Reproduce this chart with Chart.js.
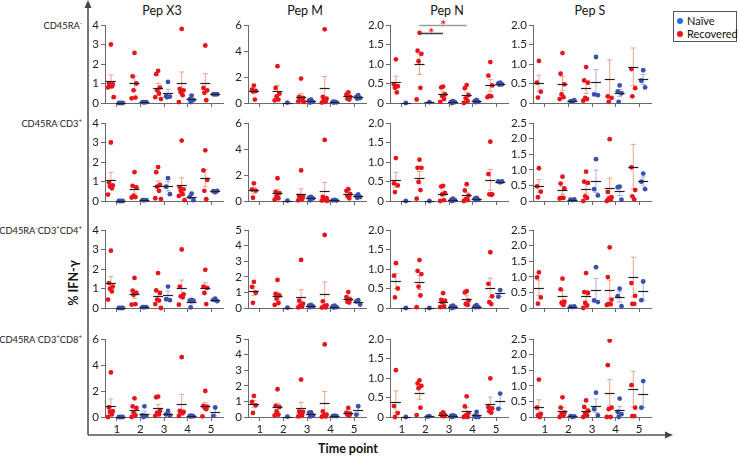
<!DOCTYPE html>
<html>
<head>
<meta charset="utf-8">
<script src="https://cdn.jsdelivr.net/npm/chart.js@4.4.0/dist/chart.umd.min.js"></script>
<style>
  body { margin: 0; background: #fff; font-family: Lato, "Open Sans", sans-serif; }
  #wrap { position: relative; width: 740px; height: 456px; overflow: hidden; }
  #wrap canvas { position: absolute; }
  .rowlbl { position: absolute; right: 658px; font-size: 9.3px; color: #222; white-space: nowrap; transform: translateY(-50%); }
  .rowlbl sup { font-size: 6px; vertical-align: 4px; }
  .title { position: absolute; font-size: 12.5px; color: #111; transform: translateX(-50%); white-space: nowrap; }
  .ylab { position: absolute; left: 73px; top: 283px; font-size: 12.5px; font-weight: bold; color: #111;
          transform: translate(-50%, -50%) rotate(-90deg); white-space: nowrap; }
  .xlab { position: absolute; left: 348px; top: 441px; font-size: 12.5px; font-weight: bold; color: #111;
          transform: translateX(-50%); white-space: nowrap; }
  #legend { position: absolute; left: 673px; top: 11px; width: 64px; height: 31px; border: 1px solid #555;
            font-size: 11px; color: #111; box-sizing: border-box; }
  #legend div { position: absolute; left: 3px; white-space: nowrap; }
  #legend span { display: inline-block; width: 6px; height: 6px; border-radius: 50%; margin-right: 4px; vertical-align: 1px; }
</style>
</head>
<body>
<div id="wrap">
  <svg width="740" height="456" style="position:absolute;left:0;top:0">
    <line x1="88" y1="6" x2="88" y2="435" stroke="#555" stroke-width="1.6"/>
    <polygon points="88,0 84.5,8 91.5,8" fill="#444"/>
    <line x1="88" y1="435" x2="666" y2="435" stroke="#555" stroke-width="1.6"/>
    <polygon points="673,435 665,431.5 665,438.5" fill="#444"/>
  </svg>
  <div id="legend">
    <div style="top:2px"><span style="background:#1f6fe8"></span>Naïve</div>
    <div style="top:15px"><span style="background:#e8141c"></span>Recovered</div>
  </div>
  <div class="ylab">% IFN-γ</div>
  <div class="xlab">Time point</div>
</div>
<script>
// time points and panel labels
var timePoints = [1, 2, 3, 4, 5];
var peptides = ['Pep X3', 'Pep M', 'Pep N', 'Pep S'];
var subsets = [
  'CD45RA<sup>-</sup>',
  'CD45RA<sup>-</sup>CD3<sup>+</sup>',
  'CD45RA<sup>-</sup>CD3<sup>+</sup>CD4<sup>+</sup>',
  'CD45RA<sup>-</sup>CD3<sup>+</sup>CD8<sup>+</sup>'
];

// y axis range per row (subset) and column (peptide)
var yMax  = [[4, 6, 2, 2], [4, 6, 2, 2.5], [4, 5, 2, 2.5], [6, 5, 2, 2.5]];
var yStep = [[1, 2, 0.5, 0.5], [1, 2, 0.5, 0.5], [1, 1, 0.5, 0.5], [2, 1, 0.5, 0.5]];

// CD45RA- : one list per time point
var rec_RA_X3 = [[3.0,1.0,0.95,0.9,0.85,0.8,0.3],[2.57,1.37,1.0,0.65,0.28,0.24],[1.65,1.48,0.79,0.65,0.48,0.3,0.2],[3.8,0.72,0.65,0.55,0.4,0.05],[2.95,0.77,0.65,0.52,0.14]];
var nai_RA_X3 = [[0,0,0],[0.03,0.05,0.05,0.05],[1.08,0.35,0.33,0.3],[0.38,0.2,0.15,0.05],[0.45,0.45,0.45]];
var rec_RA_M  = [[1.34,1.03,0.93,0.9,0.26],[2.83,1.16,0.72,0.5,0.26,0.2],[1.88,0.46,0.4,0.33,0.2,0.13,0.08],[5.67,0.46,0.33,0.2,0.1,0.03],[0.82,0.64,0.46,0.33,0.26]];
var nai_RA_M  = [[],[0.03],[0.26,0.2,0.08,0.03],[0.1,0.08,0.05,0.03],[0.6,0.46,0.38,0.33]];
var rec_RA_N  = [[1.12,0.48,0.43,0.39,0.27],[1.8,1.34,1.26,1.07,0.39,0.09],[0.42,0.4,0.22,0.18,0.1,0.03],[0.46,0.38,0.2,0.12,0.05,0.0],[1.05,0.7,0.45,0.18,0.17,0.15]];
var nai_RA_N  = [[0],[0.02],[0.05,0.03,0.02,0],[0.08,0.05,0.03,0.02],[0.52,0.5,0.48,0.47]];
var rec_RA_S  = [[1.08,0.52,0.29,0.14],[1.28,0.75,0.48,0.22,0.15,0.1],[0.92,0.58,0.52,0.13,0.1,0.06],[2.1,0.17,0.13,0.03],[2.3,0.87,0.38,0.17]];
var nai_RA_S  = [[],[0.05,0.05,0.07],[1.18,0.22,0.2],[0.45,0.3,0.25,0.03],[0.84,0.57,0.4]];

// CD45RA-CD3+
var rec_CD3_X3 = [[3.0,0.95,0.8,0.75,0.65,0.33],[1.48,0.78,0.7,0.26,0.2,0.18],[1.74,1.48,0.83,0.73,0.52,0.14,0.1],[3.1,0.7,0.6,0.52,0.35,0.26,0.04],[2.6,1.57,1.08,0.52,0.09]];
var nai_CD3_X3 = [[0,0,0],[0.05,0.05,0.05,0.05],[1.17,0.73,0.35],[0.38,0.21,0.04],[0.45,0.5,0.52]];
var rec_CD3_M  = [[1.36,0.88,0.8,0.25],[1.75,0.7,0.6,0.37,0.21,0.1],[2.35,0.39,0.31,0.21,0.13,0.05],[4.7,0.31,0.21,0.13,0.05,0.03,0.02],[0.91,0.78,0.52,0.39,0.21]];
var nai_CD3_M  = [[],[0.03],[0.31,0.26,0.2,0.05],[0.08,0.05,0.03],[0.5,0.4,0.3,0.25]];
var rec_CD3_N  = [[1.1,0.45,0.4,0.23],[1.06,0.85,0.85,0.49,0.28,0.06],[0.39,0.37,0.2,0.17,0.02,0.0],[0.43,0.27,0.14,0.05,0.02,0.0],[1.52,0.69,0.17,0.17,0.16]];
var nai_CD3_N  = [[0],[0],[0.06,0.03,0.02,0],[0.08,0.06,0.03,0.02],[0.48,0.5,0.5]];
var rec_CD3_S  = [[1.05,0.47,0.3,0.12],[0.78,0.56,0.4,0.1,0.1,0.08],[0.94,0.62,0.58,0.15,0.1,0.0],[1.98,0.29,0.12,0.08,0.04,0.0],[3.87,1.08,0.35,0.15,0.05]];
var nai_CD3_S  = [[],[0.03,0.04,0.05],[1.34,0.38,0.18],[0.46,0.44,0.04],[0.88,0.62,0.38]];

// CD45RA-CD3+CD4+
var rec_CD4_X3 = [[2.94,1.28,1.1,0.99,0.85,0.43],[1.54,0.89,0.77,0.68,0.2,0.17],[1.79,0.9,0.77,0.43,0.38,0.2,0.0],[3.0,1.1,0.7,0.6,0.55,0.17],[1.96,1.1,1.03,0.77,0.2]];
var nai_CD4_X3 = [[0,0,0],[0.05,0.05,0.05,0.05],[1.1,0.45,0.4],[0.41,0.38,0.38,0.03],[0.48,0.42,0.35]];
var rec_CD4_M  = [[1.68,1.35,0.98,0.33],[1.8,0.9,0.8,0.6,0.32,0.2],[3.08,0.47,0.28,0.17,0.1,0.04],[4.68,0.43,0.17,0.1,0.04,0.03],[1.02,0.7,0.55,0.4,0.35]];
var nai_CD4_M  = [[],[0.03],[0.2,0.15,0.1,0.05],[0.15,0.1,0.05,0.03],[0.5,0.42,0.22]];
var rec_CD4_N  = [[1.15,0.83,0.5,0.27],[1.23,0.95,0.87,0.55,0.32,0.02],[0.38,0.21,0.19,0.15,0.04,0.02],[0.43,0.4,0.19,0.1,0.08],[1.43,0.62,0.3,0.15,0.1]];
var nai_CD4_N  = [[0],[0],[0.06,0.04,0.02,0],[0.07,0.04,0.02,0.02],[0.46,0.29]];
var rec_CD4_S  = [[1.14,0.98,0.34,0.14],[0.94,0.6,0.2,0.16,0.1],[1.12,0.51,0.48,0.16,0.08,0.0],[1.94,0.99,0.27,0.13,0.12,0.1],[3.5,0.8,0.39,0.13,0.13]];
var nai_CD4_S  = [[],[0.03,0.04,0.05],[1.31,0.24,0.19],[0.62,0.38,0.06],[0.85,0.25]];

// CD45RA-CD3+CD8+
var rec_CD8_X3 = [[3.43,0.73,0.45,0.39,0.2,0.0],[1.44,0.81,0.7,0.34,0.13,0.0],[1.57,1.52,0.47,0.34,0.2,0.08],[4.6,0.47,0.39,0.3,0.29,0.08],[2.0,0.85,0.8,0.75,0.6,0.05]];
var nai_CD8_X3 = [[0,0,0],[0.82,0.13,0.08,0.0],[0.47,0.2,0.13],[0.1,0.08,0.05,0.03],[0.73,0.08]];
var rec_CD8_M  = [[1.35,0.97,0.75,0.26],[1.78,0.71,0.64,0.36,0.15,0.1],[2.4,0.36,0.32,0.21,0.1,0.04],[4.65,0.36,0.15,0.1,0.04,0.02],[0.58,0.28,0.21,0.15,0.1]];
var nai_CD8_M  = [[],[0.03],[0.3,0.28,0.1,0.03],[0.08,0.06,0.05],[0.69,0.15]];
var rec_CD8_N  = [[1.2,0.28,0.1,0.0],[0.94,0.86,0.8,0.74,0.24,0.05],[0.12,0.08,0.05,0.03,0.02],[0.53,0.27,0.1,0.04,0.0,0.0],[0.99,0.25,0.22,0.15,0.11]];
var nai_CD8_N  = [[0],[0.02,0.01],[0.04,0.03,0.02,0],[0.13,0.03,0,0],[0.6,0.21]];
var rec_CD8_S  = [[1.2,0.3,0.1,0.05,0.0],[0.63,0.3,0.14,0.1,0.05,0.0],[0.53,0.32,0.2,0.12,0.05,0.0],[2.45,1.66,0.3,0.25,0.0,0.0],[3.07,1.02,0.3,0.03,0.03]];
var nai_CD8_S  = [[],[0.0,0.03,0.02],[0.78,0.25,0.05],[0.59,0.16,0.09,0.0],[1.15,0.3]];

var recovered = [
  [rec_RA_X3, rec_RA_M, rec_RA_N, rec_RA_S],
  [rec_CD3_X3, rec_CD3_M, rec_CD3_N, rec_CD3_S],
  [rec_CD4_X3, rec_CD4_M, rec_CD4_N, rec_CD4_S],
  [rec_CD8_X3, rec_CD8_M, rec_CD8_N, rec_CD8_S]
];
var naive = [
  [nai_RA_X3, nai_RA_M, nai_RA_N, nai_RA_S],
  [nai_CD3_X3, nai_CD3_M, nai_CD3_N, nai_CD3_S],
  [nai_CD4_X3, nai_CD4_M, nai_CD4_N, nai_CD4_S],
  [nai_CD8_X3, nai_CD8_M, nai_CD8_N, nai_CD8_S]
];

// significance brackets (Pep N, CD45RA-): time point from -> to, at y level
var sigMarks = [
  { row: 0, col: 2, from: 2, to: 4, level: 2.0, color: '#9a9a9a' },
  { row: 0, col: 2, from: 2, to: 3, level: 1.8, color: '#444' }
];

var RED = '#e8141c', BLUE = '#3b4fae';
var RED_ERR = '#f3a28a', BLUE_ERR = '#aab1e0';
var AXIS = '#6a6a6a';
var FONT = 'Lato, "Open Sans", sans-serif';
var REC_OFF = -0.25, NAI_OFF = 0.17;
var jitter = [0, -0.08, 0.08, -0.04, 0.04, -0.12, 0.12, 0];

// panel placement
var colX = [105, 248, 390, 533];
var rowTop = [25, 123, 230, 339];
var plotW = 120, plotH = 78, padT = 14, axW = 32, axH = 20;

function toPoints(groups, off) {
  var pts = [];
  groups.forEach(function(g, t) {
    g.forEach(function(v, i) { pts.push({ x: timePoints[t] + off + jitter[i % jitter.length], y: v }); });
  });
  return pts;
}

function stats(g) {
  var n = g.length;
  if (!n) return null;
  var m = g.reduce(function(a, b) { return a + b; }, 0) / n;
  var sem = 0;
  if (n > 1) {
    var ss = g.reduce(function(a, b) { return a + (b - m) * (b - m); }, 0);
    sem = Math.sqrt(ss / (n - 1)) / Math.sqrt(n);
  }
  return { mean: m, sem: sem };
}

// mean line + SEM whiskers for each group, plus significance marks
var meanSem = {
  id: 'meanSem',
  beforeDatasetsDraw: function(chart, args, opts) {
    var ctx = chart.ctx, xs = chart.scales.x, ys = chart.scales.y;
    ctx.save();
    ctx.lineWidth = 1;
    [[opts.rec, REC_OFF, RED_ERR], [opts.nai, NAI_OFF, BLUE_ERR]].forEach(function(grp) {
      grp[0].forEach(function(g, t) {
        var s = stats(g);
        if (!s || s.sem === 0) return;
        var x = xs.getPixelForValue(timePoints[t] + grp[1]);
        var y1 = ys.getPixelForValue(s.mean + s.sem), y0 = ys.getPixelForValue(Math.max(0, s.mean - s.sem));
        ctx.strokeStyle = grp[2];
        ctx.beginPath();
        ctx.moveTo(x, y0); ctx.lineTo(x, y1);
        ctx.moveTo(x - 2.5, y1); ctx.lineTo(x + 2.5, y1);
        ctx.moveTo(x - 2.5, y0); ctx.lineTo(x + 2.5, y0);
        ctx.stroke();
      });
    });
    ctx.restore();
  },
  afterDatasetsDraw: function(chart, args, opts) {
    var ctx = chart.ctx, xs = chart.scales.x, ys = chart.scales.y;
    ctx.save();
    ctx.strokeStyle = '#222';
    ctx.lineWidth = 1.2;
    [[opts.rec, REC_OFF], [opts.nai, NAI_OFF]].forEach(function(grp) {
      grp[0].forEach(function(g, t) {
        var s = stats(g);
        if (!s) return;
        var x = xs.getPixelForValue(timePoints[t] + grp[1]);
        var y = Math.round(ys.getPixelForValue(s.mean)) + 0.5;
        ctx.beginPath();
        ctx.moveTo(x - 5, y); ctx.lineTo(x + 5, y);
        ctx.stroke();
      });
    });
    opts.sig.forEach(function(m) {
      var xa = xs.getPixelForValue(m.from + REC_OFF), xb = xs.getPixelForValue(m.to + REC_OFF);
      var y = Math.round(ys.getPixelForValue(m.level)) + 0.5;
      ctx.strokeStyle = m.color;
      ctx.lineWidth = 1.6;
      ctx.beginPath(); ctx.moveTo(xa, y); ctx.lineTo(xb, y); ctx.stroke();
      ctx.fillStyle = RED;
      ctx.font = 'bold 14px ' + FONT;
      ctx.textAlign = 'center';
      ctx.textBaseline = 'alphabetic';
      ctx.fillText('*', (xa + xb) / 2, y + 4);
    });
    ctx.restore();
  }
};

var wrap = document.getElementById('wrap');

peptides.forEach(function(p, c) {
  var d = document.createElement('div');
  d.className = 'title';
  d.style.left = (colX[c] + plotW / 2 - 3) + 'px';
  d.style.top = '3px';
  d.textContent = p;
  wrap.appendChild(d);
});

subsets.forEach(function(s, r) {
  var d = document.createElement('div');
  d.className = 'rowlbl';
  d.style.top = rowTop[r] + 'px';
  d.innerHTML = s;
  wrap.appendChild(d);
});

for (var r = 0; r < 4; r++) {
  for (var c = 0; c < 4; c++) {
    var cv = document.createElement('canvas');
    cv.width = axW + plotW + 2;
    cv.height = padT + plotH + axH;
    cv.style.left = (colX[c] - axW) + 'px';
    cv.style.top = (rowTop[r] - padT) + 'px';
    wrap.appendChild(cv);
    makePanel(cv, r, c);
  }
}

function makePanel(cv, r, c) {
  var step = yStep[r][c];
  new Chart(cv, {
    type: 'scatter',
    data: {
      datasets: [
        { label: 'Recovered', data: toPoints(recovered[r][c], REC_OFF), backgroundColor: RED,
          pointRadius: 2.4, borderWidth: 0, clip: { left: 20, right: 20, top: 0, bottom: 20 } },
        { label: 'Naïve', data: toPoints(naive[r][c], NAI_OFF), backgroundColor: BLUE,
          pointRadius: 2.4, borderWidth: 0, clip: { left: 20, right: 20, top: 0, bottom: 20 } }
      ]
    },
    options: {
      responsive: false,
      animation: false,
      events: [],
      layout: { padding: { top: padT, right: 2, left: 0, bottom: 0 } },
      plugins: {
        legend: { display: false },
        tooltip: { enabled: false },
        meanSem: {
          rec: recovered[r][c],
          nai: naive[r][c],
          sig: sigMarks.filter(function(m) { return m.row === r && m.col === c; })
        }
      },
      scales: {
        x: {
          type: 'linear', min: 0.5, max: 5.5,
          afterBuildTicks: function(s) { s.ticks = timePoints.map(function(v) { return { value: v }; }); },
          afterFit: function(s) { s.height = axH; },
          grid: { drawOnChartArea: false, drawTicks: true, tickLength: 4, color: AXIS },
          border: { color: AXIS, width: 1 },
          ticks: { display: r === 3, autoSkip: false, maxRotation: 0, color: '#222', font: { family: FONT, size: 11.5 }, padding: 1 }
        },
        y: {
          min: 0, max: yMax[r][c],
          afterFit: function(s) { s.width = axW; },
          grid: { drawOnChartArea: false, drawTicks: true, tickLength: 4, color: AXIS },
          border: { color: AXIS, width: 1 },
          ticks: {
            stepSize: step, autoSkip: false, color: '#222', padding: 2, font: { family: FONT, size: 11.5 },
            callback: function(v) { return v === 0 ? '0' : (step < 1 ? v.toFixed(1) : String(v)); }
          }
        }
      }
    },
    plugins: [meanSem]
  });
}
</script>
</body>
</html>
